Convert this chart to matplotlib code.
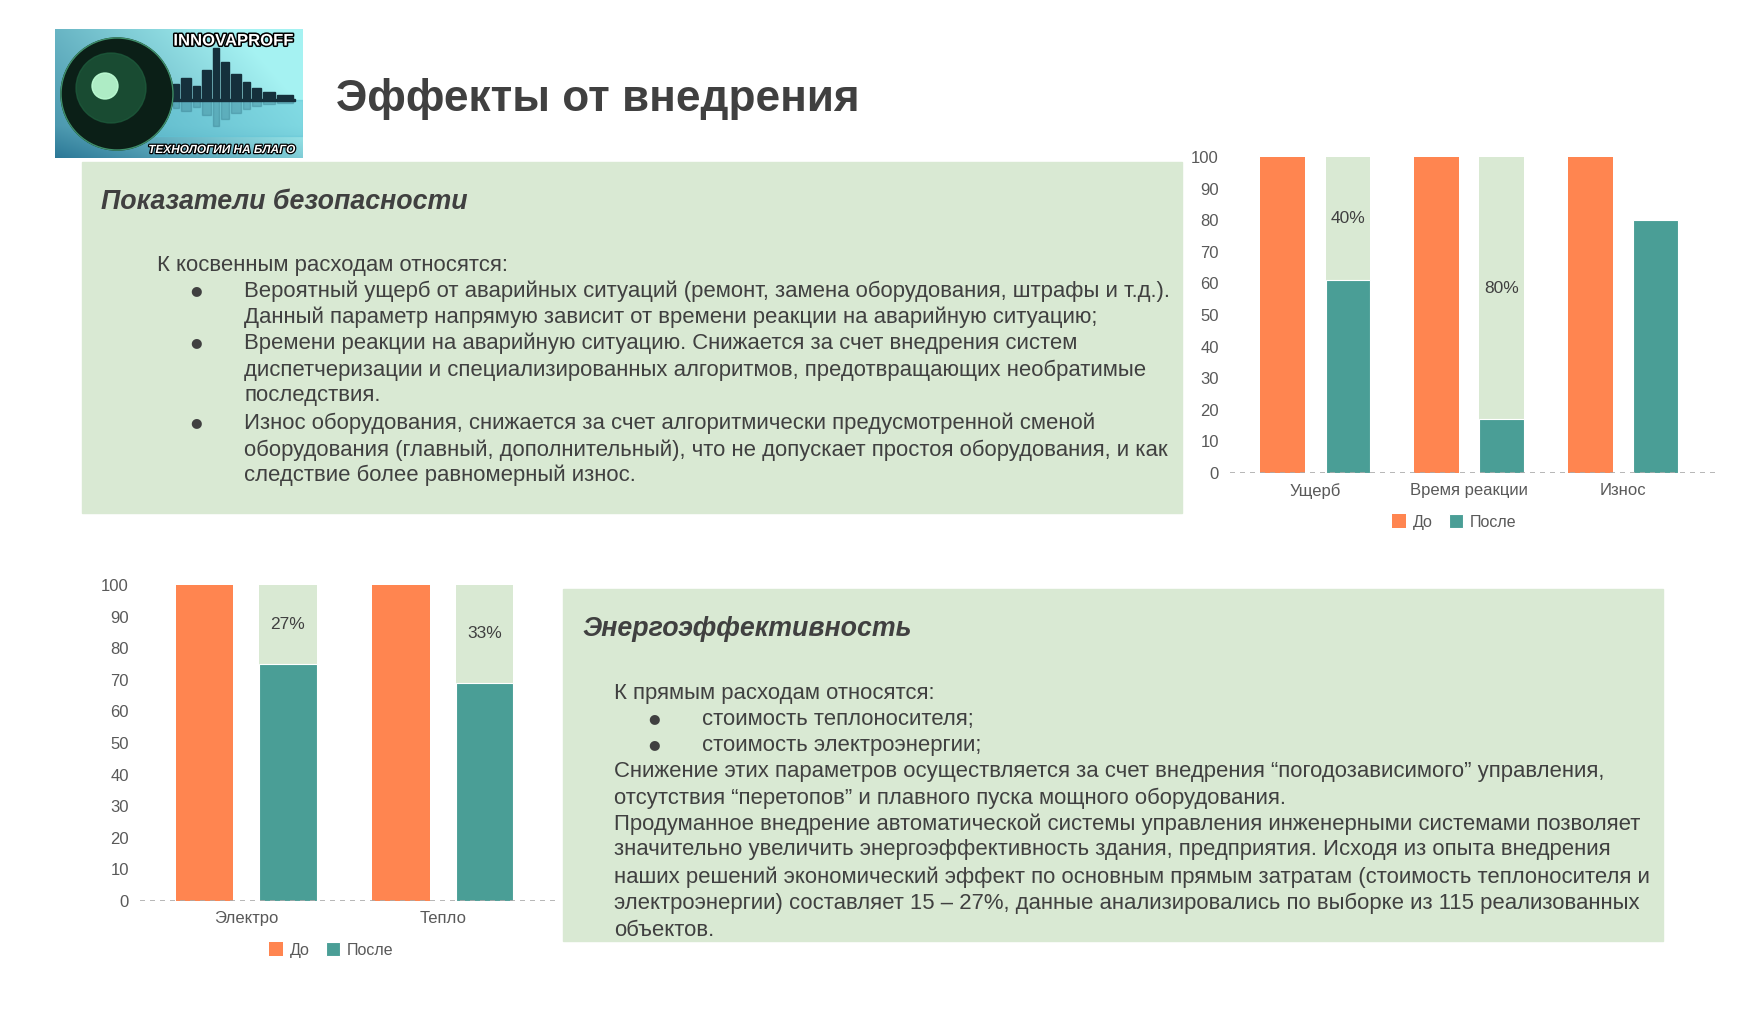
import numpy as np
import matplotlib.pyplot as plt
from matplotlib.patches import Rectangle, Ellipse
import matplotlib.patheffects as pe

plt.rcParams['font.family'] = ['Liberation Sans', 'DejaVu Sans']

# chart data
safety_cats = ['Ущерб', 'Время реакции', 'Износ']
safety_before = [100, 100, 100]
safety_after = [61, 17, 80]
safety_gap = [True, True, False]
safety_labels = ['40%', '80%', '']

energy_cats = ['Электро', 'Тепло']
energy_before = [100, 100]
energy_after = [75, 69]
energy_gap = [True, True]
energy_labels = ['27%', '33%']

series_names = ['До', 'После']

ORANGE = '#FF8550'
TEAL = '#4A9E96'
PALE = '#D9E9D3'
TEXT = '#404040'
TICK = '#595959'

W, H = 1754, 1011
fig = plt.figure(figsize=(W / 100, H / 100), dpi=100)
fig.patch.set_facecolor('white')


def fx(x):
    return x / W


def fy(y):
    return 1 - y / H


# ---- logo (simple drawing) ----
LW, LH = 248, 129
lax = fig.add_axes([fx(55), fy(158), fx(303) - fx(55), fy(29) - fy(158)])
gx, gy = np.meshgrid(np.linspace(0, 1, 248), np.linspace(0, 1, 129))
light = np.clip(0.35 + 0.55 * gx + 0.25 * gy - 0.6 * np.clip(0.25 - gy, 0, 1), 0, 1)
bg = np.dstack([0.05 + 0.6 * light, 0.35 + 0.6 * light, 0.5 + 0.45 * light])
lax.imshow(np.clip(bg, 0, 1), extent=[0, LW, 0, LH], origin='lower', aspect='auto')
# water band
lax.add_patch(Rectangle((100, 22), 148, 36, color='#5fc4d6', alpha=0.5))
# skyline
for bx, bw_, bh in [(108, 8, 10), (118, 6, 16), (126, 10, 22), (138, 7, 14), (147, 9, 30),
                    (158, 6, 52), (166, 8, 38), (176, 10, 26), (188, 7, 18), (197, 9, 12),
                    (208, 12, 8), (222, 16, 5)]:
    lax.add_patch(Rectangle((bx, 58), bw_, bh, color='#15303c'))
    lax.add_patch(Rectangle((bx, 58 - bh * 0.5), bw_, bh * 0.5, color='#2b6a7c', alpha=0.3))
lax.add_patch(Rectangle((100, 57), 140, 2, color='#15303c'))
# globe
lax.add_patch(Ellipse((62, 64), 112, 112, color='#0b1f17'))
lax.add_patch(Ellipse((56, 70), 70, 70, color='#1f5e3e', alpha=0.7))
lax.add_patch(Ellipse((50, 72), 26, 26, color='#bfffd6', alpha=0.9))
lax.add_patch(Ellipse((62, 64), 112, 112, fill=False, ec='#3f8f6a', lw=1))
lax.text(238, 117, 'INNOVAPROFF', ha='right', va='center', fontsize=12, fontweight='bold',
         color='white', path_effects=[pe.withStroke(linewidth=2.2, foreground='black')])
lax.text(240, 8, 'ТЕХНОЛОГИИ НА БЛАГО', ha='right', va='center', fontsize=8.5,
         fontweight='bold', style='italic', color='white',
         path_effects=[pe.withStroke(linewidth=1.8, foreground='black')])
lax.set_xlim(0, LW)
lax.set_ylim(0, LH)
lax.axis('off')

# ---- title ----
fig.text(fx(336), fy(99), 'Эффекты от внедрения', fontsize=31.8, fontweight='bold',
         color=TEXT, va='center', ha='left')

# ---- text boxes ----
fig.add_artist(Rectangle((fx(82), fy(513)), fx(1182) - fx(82), fy(162) - fy(513),
                         transform=fig.transFigure, color=PALE, zorder=0))
fig.add_artist(Rectangle((fx(563), fy(941)), fx(1663) - fx(563), fy(589) - fy(941),
                         transform=fig.transFigure, color=PALE, zorder=0))

BODY = 15.9


def line(x, y, s, **kw):
    fig.text(fx(x), fy(y), s, fontsize=BODY, color=TEXT, va='center', ha='left', **kw)


def bullet(x, y):
    fig.text(fx(x), fy(y), '●', fontsize=9.5, color=TEXT, va='center', ha='left',
             family='DejaVu Sans')


fig.text(fx(101), fy(202), 'Показатели безопасности', fontsize=19.3, fontweight='bold',
         style='italic', color=TEXT, va='center', ha='left')
line(157, 265, 'К косвенным расходам относятся:')
box1 = [
    (291, True, 'Вероятный ущерб от аварийных ситуаций (ремонт, замена оборудования, штрафы и т.д.).'),
    (317, False, 'Данный параметр напрямую зависит от времени реакции на аварийную ситуацию;'),
    (343, True, 'Времени реакции на аварийную ситуацию. Снижается за счет внедрения систем'),
    (370, False, 'диспетчеризации и специализированных алгоритмов, предотвращающих необратимые'),
    (396, False, 'последствия.'),
    (423, True, 'Износ оборудования, снижается за счет алгоритмически предусмотренной сменой'),
    (450, False, 'оборудования (главный, дополнительный), что не допускает простоя оборудования, и как'),
    (475, False, 'следствие более равномерный износ.'),
]
for y, b, s in box1:
    if b:
        bullet(190, y)
    line(244, y, s)

fig.text(fx(582), fy(629), 'Энергоэффективность', fontsize=19.3, fontweight='bold',
         style='italic', color=TEXT, va='center', ha='left')
line(614, 694, 'К прямым расходам относятся:')
bullet(648, 719)
line(702, 719, 'стоимость теплоносителя;')
bullet(648, 745)
line(702, 745, 'стоимость электроэнергии;')
box2 = [
    (772, 'Снижение этих параметров осуществляется за счет внедрения “погодозависимого” управления,'),
    (798, 'отсутствия “перетопов” и плавного пуска мощного оборудования.'),
    (824, 'Продуманное внедрение автоматической системы управления инженерными системами позволяет'),
    (850, 'значительно увеличить энергоэффективность здания, предприятия. Исходя из опыта внедрения'),
    (877, 'наших решений экономический эффект по основным прямым затратам (стоимость теплоносителя и'),
    (903, 'электроэнергии) составляет 15 – 27%, данные анализировались по выборке из 115 реализованных'),
    (930, 'объектов.'),
]
for y, s in box2:
    line(614, y, s)


# ---- bar charts ----
def bar_chart(rect, cats, before, after, gap, labels, xlim, legend_xy):
    ax = fig.add_axes(rect)
    x = np.arange(len(cats))
    bw, off = 0.292, 0.212
    for i in range(len(cats)):
        if gap[i]:
            ax.bar(x[i] + off, 100, bw, color=PALE, zorder=1)
            ax.text(x[i] + off, (after[i] + 100) / 2, labels[i], ha='center', va='center',
                    fontsize=12.5, color=TEXT, zorder=3)
    b1 = ax.bar(x - off, before, bw, color=ORANGE, zorder=2, label=series_names[0])
    b2 = ax.bar(x + off, after, bw, color=TEAL, zorder=2, label=series_names[1],
                edgecolor='white', linewidth=0.8)
    ax.axhline(0, color='#AAAAAA', lw=1.2, ls=(0, (3, 3)), zorder=4)
    ax.set_xlim(*xlim)
    ax.set_ylim(0, 100)
    ax.set_yticks(range(0, 101, 10))
    ax.set_xticks(x)
    ax.set_xticklabels(cats)
    ax.tick_params(length=0, labelsize=12, colors=TICK, pad=8)
    ax.tick_params(axis='x', pad=7)
    for s in ax.spines.values():
        s.set_visible(False)
    ax.set_facecolor('none')
    ax.legend(handles=[b1, b2], loc='center', bbox_to_anchor=legend_xy,
              bbox_transform=fig.transFigure, ncol=2, frameon=False, fontsize=11.5,
              handlelength=0.9, handleheight=0.9, handletextpad=0.4, columnspacing=1.0,
              labelcolor=TICK)
    return ax


bar_chart([fx(1230), fy(473), fx(1715) - fx(1230), fy(157) - fy(473)],
          safety_cats, safety_before, safety_after, safety_gap, safety_labels,
          (-0.556, 2.60), (fx(1454), fy(522)))
bar_chart([fx(140), fy(901), fx(559) - fx(140), fy(585) - fy(901)],
          energy_cats, energy_before, energy_after, energy_gap, energy_labels,
          (-0.541, 1.592), (fx(331), fy(950)))

fig.savefig('out.png', dpi=100)
